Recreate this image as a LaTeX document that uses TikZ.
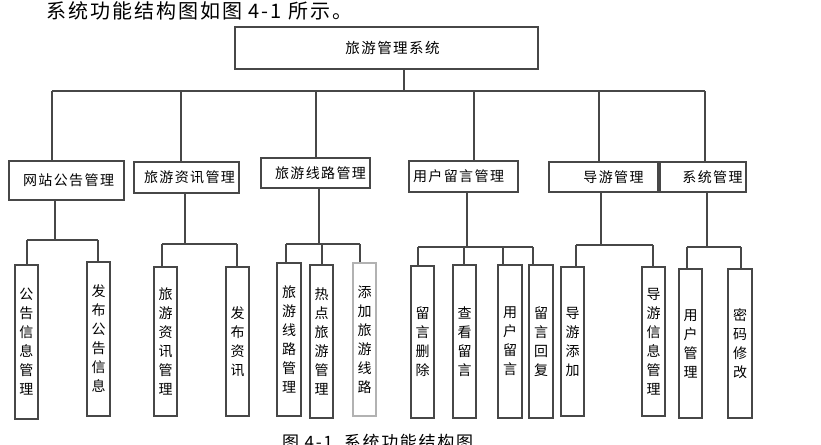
\documentclass[tikz,border=0pt]{standalone}
\usepackage{fontspec}
\setmainfont{Noto Sans CJK SC}[LetterSpace=10]
\tikzset{
  bx/.style={draw=black!72, line width=1.1pt, inner sep=0pt, fill=white},
  leaf/.style={bx, align=center, font=\fontsize{14}{19}\selectfont},
  lvl/.style={bx, font=\fontsize{14}{16}\selectfont},
  ln/.style={draw=black!72, line width=1.1pt},
  faint/.style={draw=black!30},
}
\newcommand\mkbox[7][]{\node[bx,minimum width={(#4-#2)*1pt},minimum height={(#5-#3)*1pt},#1] (#6) at ({(#2+#4)/2},{(#3+#5)/2}) {#7};}
\begin{document}
\begin{tikzpicture}[x=1pt,y=-1pt]
\useasboundingbox (0,0) rectangle (821,444);
\clip (0,0) rectangle (821,444);
% heading text
\node[anchor=base west, inner sep=0pt, font=\fontsize{20}{22}\selectfont] (head) at (46,18.5) {系统功能结构图如图 4-1 所示。};
% root
\mkbox[font=\fontsize{14.5}{16}\selectfont]{235}{27}{538}{69}{root}{\hspace*{12pt}旅游管理系统}
% level 1
\mkbox[lvl]{9}{161}{124}{200}{p1}{\hspace*{4pt}网站公告管理}
\mkbox[lvl]{134}{162}{239}{193}{p2}{\hspace*{6pt}旅游资讯管理}
\mkbox[lvl]{261}{158}{370}{188}{p3}{\hspace*{10pt}旅游线路管理}
\mkbox[lvl]{409}{161}{518}{192}{p4}{\hspace*{-10pt}用户留言管理}
\mkbox[lvl]{549}{162}{658}{192}{p5}{\hspace*{20pt}导游管理}
\mkbox[lvl]{660}{162}{746}{192}{p6}{\hspace*{19pt}系统管理}
% leaves
\mkbox[leaf]{15}{265}{38}{419}{a1}{公\\告\\信\\息\\管\\理}
\mkbox[leaf]{87}{262}{110}{416}{a2}{发\\布\\公\\告\\信\\息}
\mkbox[leaf]{154}{267}{177}{416}{b1}{旅\\游\\资\\讯\\管\\理}
\mkbox[leaf]{226}{267}{249}{416}{b2}{发\\布\\资\\讯}
\mkbox[leaf]{277}{263}{301}{416}{c1}{旅\\游\\线\\路\\管\\理}
\mkbox[leaf]{310}{265}{333}{418}{c2}{热\\点\\旅\\游\\管\\理}
\mkbox[leaf,faint]{353}{263}{376}{416}{c3}{添\\加\\旅\\游\\线\\路}
\mkbox[leaf]{411}{266}{434}{418}{e1}{留\\言\\删\\除}
\mkbox[leaf]{453}{265}{476}{418}{e2}{查\\看\\留\\言}
\mkbox[leaf]{498}{265}{522}{418}{e3}{用\\户\\留\\言}
\mkbox[leaf]{529}{265}{553}{418}{e4}{留\\言\\回\\复}
\mkbox[leaf]{561}{267}{584}{416}{f1}{导\\游\\添\\加}
\mkbox[leaf]{642}{267}{665}{416}{f2}{导\\游\\信\\息\\管\\理}
\mkbox[leaf]{679}{269}{702}{418}{h1}{用\\户\\管\\理}
\mkbox[leaf]{728}{269}{752}{418}{h2}{密\\码\\修\\改}
% caption
\node[anchor=base west, inner sep=0pt, font=\fontsize{17}{19}\selectfont] (cap) at (282,448) {图 4-1\ \ 系统功能结构图};
% top bus
\coordinate (top) at (404,91);
\draw[ln] (root.south -| top) -- (top);
\foreach \n/\x in {d1/52,d2/181,d3/316,d4/474,d5/599,d6/705} {\coordinate (\n) at (\x,91);}
\draw[ln] (d1) -- (d6);
\foreach \i in {1,...,6} {\draw[ln] (d\i) -- (d\i |- p\i.north);}
% group drops
\foreach \g/\x/\y/\p in {g1/55/240/p1,g2/185/244/p2,g3/319/244/p3,g4/467/247/p4,g5/601/245/p5,g6/707/247/p6}
  {\coordinate (\g) at (\x,\y); \draw[ln] (\g |- \p.south) -- (\g);}
% leaf attach points
\foreach \l/\x/\g in {a1/27/g1,a2/98/g1,b1/162/g2,b2/237/g2,c1/286/g3,c2/322/g3,c3/360/g3,e1/418/g4,e2/464/g4,e3/503/g4,e4/533/g4,f1/576/g5,f2/653/g5,h1/687/g6,h2/741/g6}
  {\coordinate (\l t) at (\x,0); \draw[ln] (\l t |- \g) -- (\l t |- \l.north);}
\draw[ln] (a1t |- g1) -- (a2t |- g1);
\draw[ln] (b1t |- g2) -- (b2t |- g2);
\draw[ln] (c1t |- g3) -- (c3t |- g3);
\draw[ln] (e1t |- g4) -- (e4t |- g4);
\draw[ln] (f1t |- g5) -- (f2t |- g5);
\draw[ln] (h1t |- g6) -- (h2t |- g6);
\end{tikzpicture}
\end{document}
